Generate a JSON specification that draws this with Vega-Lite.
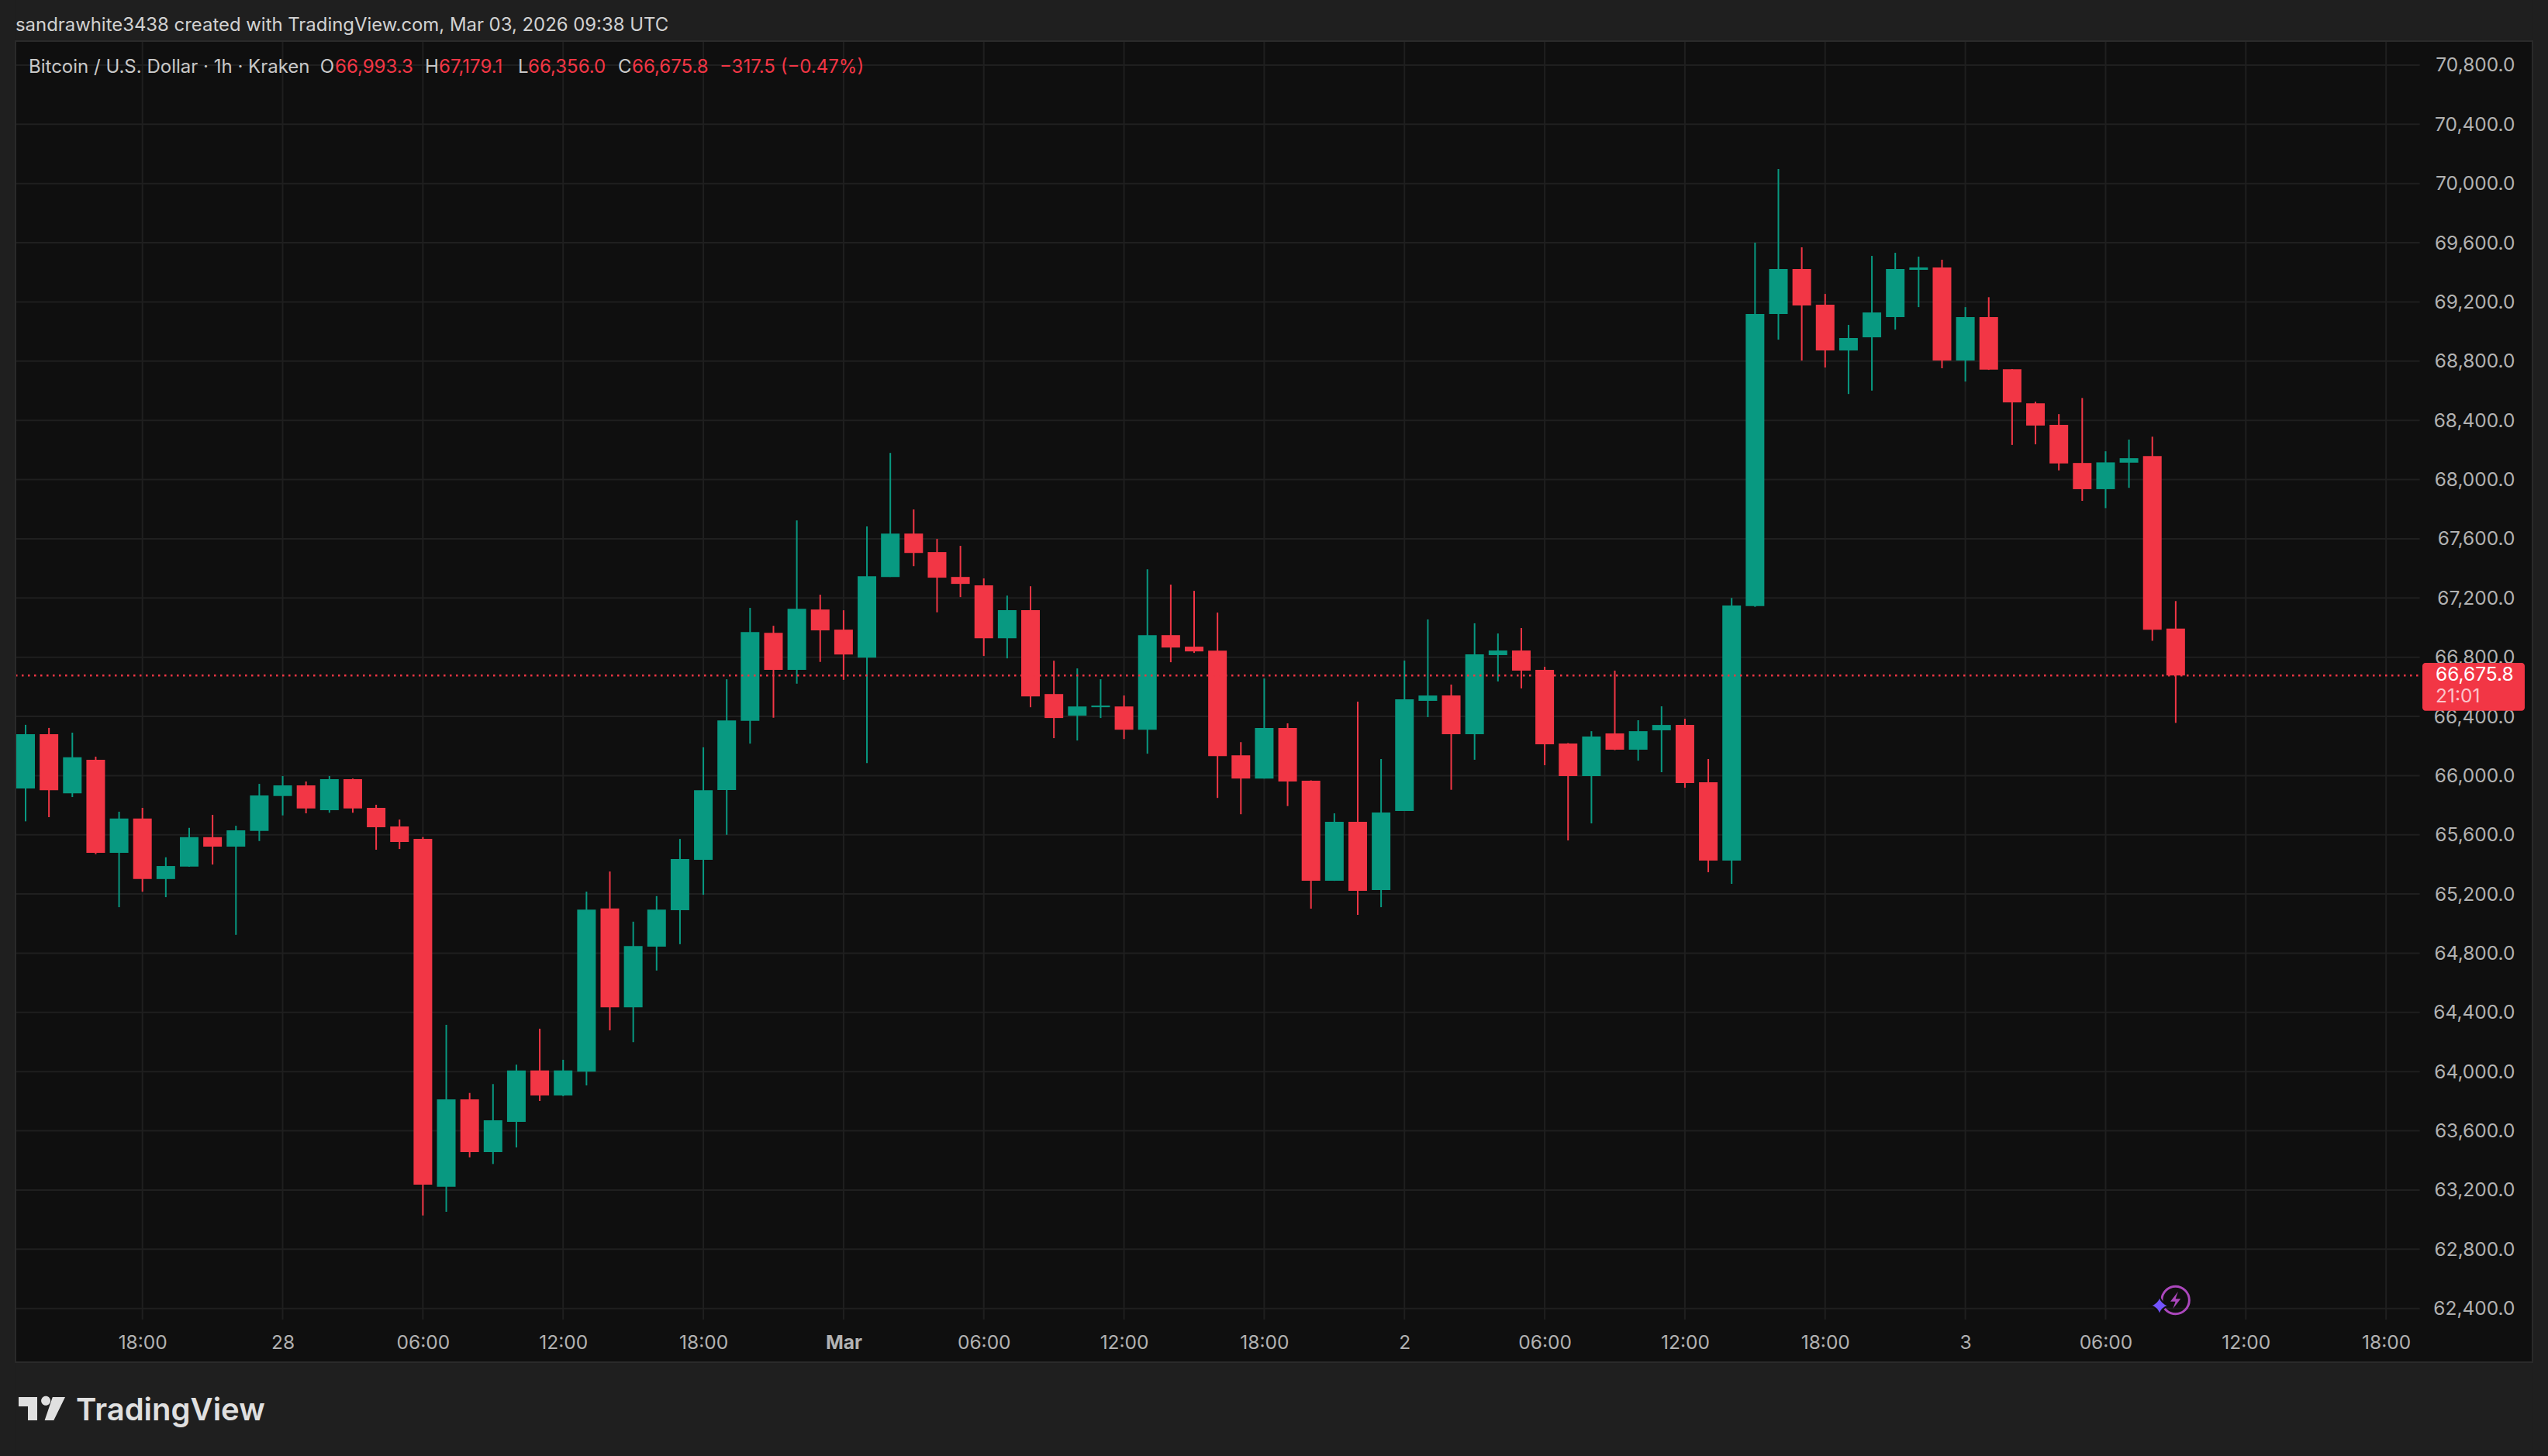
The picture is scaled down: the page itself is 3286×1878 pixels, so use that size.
{
  "$schema": "https://vega.github.io/schema/vega-lite/v6.json",
  "width": 3286,
  "height": 1878,
  "padding": 0,
  "autosize": "none",
  "background": "#0f0f0f",
  "config": {"view": {"stroke": null}, "text": {"font": "Inter", "fontSize": 24, "baseline": "middle", "align": "left"}},
  "datasets": {
    "candles": [
      {"time":"2026-02-27T13:00:00Z","open":65913,"high":66343,"low":65691,"close":66280},
      {"time":"2026-02-27T14:00:00Z","open":66280,"high":66322,"low":65719,"close":65901},
      {"time":"2026-02-27T15:00:00Z","open":65880,"high":66290,"low":65855,"close":66124},
      {"time":"2026-02-27T16:00:00Z","open":66107,"high":66128,"low":65469,"close":65478},
      {"time":"2026-02-27T17:00:00Z","open":65478,"high":65756,"low":65111,"close":65710},
      {"time":"2026-02-27T18:00:00Z","open":65710,"high":65782,"low":65216,"close":65301},
      {"time":"2026-02-27T19:00:00Z","open":65301,"high":65448,"low":65179,"close":65389},
      {"time":"2026-02-27T20:00:00Z","open":65385,"high":65647,"low":65384,"close":65584},
      {"time":"2026-02-27T21:00:00Z","open":65584,"high":65735,"low":65399,"close":65520},
      {"time":"2026-02-27T22:00:00Z","open":65520,"high":65661,"low":64924,"close":65630},
      {"time":"2026-02-27T23:00:00Z","open":65626,"high":65944,"low":65558,"close":65866},
      {"time":"2026-02-28T00:00:00Z","open":65862,"high":65997,"low":65731,"close":65934},
      {"time":"2026-02-28T01:00:00Z","open":65934,"high":65960,"low":65745,"close":65778},
      {"time":"2026-02-28T02:00:00Z","open":65766,"high":65997,"low":65749,"close":65976},
      {"time":"2026-02-28T03:00:00Z","open":65976,"high":65980,"low":65749,"close":65778},
      {"time":"2026-02-28T04:00:00Z","open":65782,"high":65803,"low":65499,"close":65651},
      {"time":"2026-02-28T05:00:00Z","open":65656,"high":65703,"low":65504,"close":65551},
      {"time":"2026-02-28T06:00:00Z","open":65572,"high":65584,"low":63028,"close":63236},
      {"time":"2026-02-28T07:00:00Z","open":63222,"high":64316,"low":63053,"close":63813},
      {"time":"2026-02-28T08:00:00Z","open":63813,"high":63856,"low":63421,"close":63456},
      {"time":"2026-02-28T09:00:00Z","open":63456,"high":63916,"low":63376,"close":63671},
      {"time":"2026-02-28T10:00:00Z","open":63661,"high":64047,"low":63488,"close":64008},
      {"time":"2026-02-28T11:00:00Z","open":64008,"high":64290,"low":63802,"close":63839},
      {"time":"2026-02-28T12:00:00Z","open":63839,"high":64080,"low":63834,"close":64008},
      {"time":"2026-02-28T13:00:00Z","open":64000,"high":65216,"low":63907,"close":65095},
      {"time":"2026-02-28T14:00:00Z","open":65102,"high":65352,"low":64279,"close":64435},
      {"time":"2026-02-28T15:00:00Z","open":64435,"high":65013,"low":64199,"close":64849},
      {"time":"2026-02-28T16:00:00Z","open":64845,"high":65186,"low":64683,"close":65095},
      {"time":"2026-02-28T17:00:00Z","open":65090,"high":65572,"low":64861,"close":65436},
      {"time":"2026-02-28T18:00:00Z","open":65431,"high":66191,"low":65195,"close":65901},
      {"time":"2026-02-28T19:00:00Z","open":65902,"high":66651,"low":65600,"close":66373},
      {"time":"2026-02-28T20:00:00Z","open":66370,"high":67133,"low":66216,"close":66970},
      {"time":"2026-02-28T21:00:00Z","open":66965,"high":67012,"low":66391,"close":66714},
      {"time":"2026-02-28T22:00:00Z","open":66714,"high":67724,"low":66621,"close":67127},
      {"time":"2026-02-28T23:00:00Z","open":67122,"high":67222,"low":66768,"close":66981},
      {"time":"2026-03-01T00:00:00Z","open":66986,"high":67117,"low":66647,"close":66818},
      {"time":"2026-03-01T01:00:00Z","open":66797,"high":67683,"low":66085,"close":67347},
      {"time":"2026-03-01T02:00:00Z","open":67342,"high":68180,"low":67342,"close":67635},
      {"time":"2026-03-01T03:00:00Z","open":67635,"high":67798,"low":67415,"close":67504},
      {"time":"2026-03-01T04:00:00Z","open":67510,"high":67599,"low":67103,"close":67337},
      {"time":"2026-03-01T05:00:00Z","open":67342,"high":67552,"low":67206,"close":67295},
      {"time":"2026-03-01T06:00:00Z","open":67285,"high":67332,"low":66808,"close":66928},
      {"time":"2026-03-01T07:00:00Z","open":66928,"high":67216,"low":66792,"close":67117},
      {"time":"2026-03-01T08:00:00Z","open":67117,"high":67279,"low":66462,"close":66535},
      {"time":"2026-03-01T09:00:00Z","open":66551,"high":66776,"low":66253,"close":66389},
      {"time":"2026-03-01T10:00:00Z","open":66405,"high":66724,"low":66237,"close":66467},
      {"time":"2026-03-01T11:00:00Z","open":66462,"high":66651,"low":66389,"close":66473},
      {"time":"2026-03-01T12:00:00Z","open":66467,"high":66541,"low":66247,"close":66310},
      {"time":"2026-03-01T13:00:00Z","open":66310,"high":67394,"low":66148,"close":66949},
      {"time":"2026-03-01T14:00:00Z","open":66949,"high":67290,"low":66766,"close":66865},
      {"time":"2026-03-01T15:00:00Z","open":66871,"high":67248,"low":66829,"close":66839},
      {"time":"2026-03-01T16:00:00Z","open":66844,"high":67101,"low":65849,"close":66132},
      {"time":"2026-03-01T17:00:00Z","open":66137,"high":66226,"low":65739,"close":65980},
      {"time":"2026-03-01T18:00:00Z","open":65980,"high":66656,"low":65980,"close":66321},
      {"time":"2026-03-01T19:00:00Z","open":66321,"high":66353,"low":65794,"close":65960},
      {"time":"2026-03-01T20:00:00Z","open":65965,"high":65968,"low":65101,"close":65290},
      {"time":"2026-03-01T21:00:00Z","open":65290,"high":65745,"low":65289,"close":65688},
      {"time":"2026-03-01T22:00:00Z","open":65688,"high":66499,"low":65059,"close":65221},
      {"time":"2026-03-01T23:00:00Z","open":65227,"high":66112,"low":65111,"close":65750},
      {"time":"2026-03-02T00:00:00Z","open":65761,"high":66777,"low":65761,"close":66515},
      {"time":"2026-03-02T01:00:00Z","open":66505,"high":67055,"low":66395,"close":66541},
      {"time":"2026-03-02T02:00:00Z","open":66541,"high":66615,"low":65904,"close":66280},
      {"time":"2026-03-02T03:00:00Z","open":66280,"high":67029,"low":66107,"close":66819},
      {"time":"2026-03-02T04:00:00Z","open":66814,"high":66960,"low":66636,"close":66845},
      {"time":"2026-03-02T05:00:00Z","open":66845,"high":66997,"low":66589,"close":66709},
      {"time":"2026-03-02T06:00:00Z","open":66714,"high":66735,"low":66070,"close":66211},
      {"time":"2026-03-02T07:00:00Z","open":66217,"high":66220,"low":65562,"close":65997},
      {"time":"2026-03-02T08:00:00Z","open":65997,"high":66300,"low":65677,"close":66264},
      {"time":"2026-03-02T09:00:00Z","open":66285,"high":66709,"low":66172,"close":66175},
      {"time":"2026-03-02T10:00:00Z","open":66175,"high":66374,"low":66101,"close":66300},
      {"time":"2026-03-02T11:00:00Z","open":66306,"high":66468,"low":66023,"close":66342},
      {"time":"2026-03-02T12:00:00Z","open":66342,"high":66384,"low":65918,"close":65950},
      {"time":"2026-03-02T13:00:00Z","open":65955,"high":66112,"low":65347,"close":65426},
      {"time":"2026-03-02T14:00:00Z","open":65426,"high":67200,"low":65269,"close":67149},
      {"time":"2026-03-02T15:00:00Z","open":67145,"high":69600,"low":67140,"close":69118},
      {"time":"2026-03-02T16:00:00Z","open":69118,"high":70098,"low":68945,"close":69422},
      {"time":"2026-03-02T17:00:00Z","open":69422,"high":69569,"low":68804,"close":69176},
      {"time":"2026-03-02T18:00:00Z","open":69181,"high":69254,"low":68757,"close":68872},
      {"time":"2026-03-02T19:00:00Z","open":68872,"high":69045,"low":68578,"close":68956},
      {"time":"2026-03-02T20:00:00Z","open":68961,"high":69511,"low":68601,"close":69129},
      {"time":"2026-03-02T21:00:00Z","open":69097,"high":69532,"low":69013,"close":69422},
      {"time":"2026-03-02T22:00:00Z","open":69417,"high":69506,"low":69165,"close":69433},
      {"time":"2026-03-02T23:00:00Z","open":69433,"high":69485,"low":68752,"close":68804},
      {"time":"2026-03-03T00:00:00Z","open":68804,"high":69165,"low":68662,"close":69097},
      {"time":"2026-03-03T01:00:00Z","open":69097,"high":69232,"low":68741,"close":68743},
      {"time":"2026-03-03T02:00:00Z","open":68745,"high":68746,"low":68234,"close":68522},
      {"time":"2026-03-03T03:00:00Z","open":68515,"high":68526,"low":68238,"close":68365},
      {"time":"2026-03-03T04:00:00Z","open":68369,"high":68442,"low":68062,"close":68109},
      {"time":"2026-03-03T05:00:00Z","open":68112,"high":68551,"low":67856,"close":67935},
      {"time":"2026-03-03T06:00:00Z","open":67935,"high":68191,"low":67807,"close":68116},
      {"time":"2026-03-03T07:00:00Z","open":68114,"high":68270,"low":67944,"close":68144},
      {"time":"2026-03-03T08:00:00Z","open":68159,"high":68290,"low":66911,"close":66986},
      {"time":"2026-03-03T09:00:00Z","open":66993.3,"high":67179.1,"low":66356,"close":66675.8}
    ],
    "prices": [
      {"price":62400},{"price":62800},{"price":63200},{"price":63600},{"price":64000},{"price":64400},
      {"price":64800},{"price":65200},{"price":65600},{"price":66000},{"price":66400},{"price":66800},
      {"price":67200},{"price":67600},{"price":68000},{"price":68400},{"price":68800},{"price":69200},
      {"price":69600},{"price":70000},{"price":70400},{"price":70800}
    ],
    "times": [
      {"time":"2026-02-27T18:00:00Z"},{"time":"2026-02-28T00:00:00Z"},{"time":"2026-02-28T06:00:00Z"},
      {"time":"2026-02-28T12:00:00Z"},{"time":"2026-02-28T18:00:00Z"},{"time":"2026-03-01T00:00:00Z"},
      {"time":"2026-03-01T06:00:00Z"},{"time":"2026-03-01T12:00:00Z"},{"time":"2026-03-01T18:00:00Z"},
      {"time":"2026-03-02T00:00:00Z"},{"time":"2026-03-02T06:00:00Z"},{"time":"2026-03-02T12:00:00Z"},
      {"time":"2026-03-02T18:00:00Z"},{"time":"2026-03-03T00:00:00Z"},{"time":"2026-03-03T06:00:00Z"},
      {"time":"2026-03-03T12:00:00Z"},{"time":"2026-03-03T18:00:00Z"}
    ]
  },
  "layer": [
    {
      "data": {"name": "times"},
      "mark": {"type": "rule", "color": "#1f1f1f", "strokeWidth": 2},
      "encoding": {
        "x": {
          "field": "time",
          "type": "temporal",
          "title": null,
          "scale": {"type": "utc", "padding": 0, "domain": ["2026-02-27T11:54:18Z", "2026-03-04T00:55:48Z"]},
          "axis": {
            "orient": "bottom",
            "offset": -176,
            "grid": false,
            "domain": false,
            "ticks": false,
            "labelPadding": 30,
            "labelBaseline": "middle",
            "labelFont": "Inter",
            "labelFontSize": 24.5,
            "labelColor": "#b2b2b2",
            "labelOverlap": false,
            "labelFlush": false,
            "labelBound": false,
            "values": ["2026-02-27T18:00:00Z","2026-02-28T00:00:00Z","2026-02-28T06:00:00Z","2026-02-28T12:00:00Z","2026-02-28T18:00:00Z","2026-03-01T00:00:00Z","2026-03-01T06:00:00Z","2026-03-01T12:00:00Z","2026-03-01T18:00:00Z","2026-03-02T00:00:00Z","2026-03-02T06:00:00Z","2026-03-02T12:00:00Z","2026-03-02T18:00:00Z","2026-03-03T00:00:00Z","2026-03-03T06:00:00Z","2026-03-03T12:00:00Z","2026-03-03T18:00:00Z"],
            "labelExpr": "utchours(datum.value) == 0 ? (utcdate(datum.value) == 1 ? 'Mar' : utcdate(datum.value) + '') : utcFormat(datum.value, '%H:%M')",
            "labelFontWeight": {"condition": {"test": "utchours(datum.value) == 0 && utcdate(datum.value) == 1", "value": "bold"}, "value": "normal"}
          }
        },
        "y": {"datum": 70962},
        "y2": {"datum": 62325}
      }
    },
    {
      "data": {"name": "prices"},
      "mark": {"type": "rule", "color": "#1f1f1f", "strokeWidth": 2},
      "encoding": {
        "y": {
          "field": "price",
          "type": "quantitative",
          "title": null,
          "scale": {"domain": [61403.2, 71239.8], "nice": false, "zero": false},
          "axis": {
            "orient": "right",
            "offset": -166,
            "grid": false,
            "domain": false,
            "ticks": false,
            "format": ",.1f",
            "labelPadding": 123,
            "labelAlign": "right",
            "labelBaseline": "middle",
            "labelOffset": 1,
            "labelFont": "Inter",
            "labelFontSize": 24.5,
            "labelColor": "#b2b2b2",
            "labelOverlap": false,
            "labelFlush": false,
            "labelBound": false,
            "values": [62400,62800,63200,63600,64000,64400,64800,65200,65600,66000,66400,66800,67200,67600,68000,68400,68800,69200,69600,70000,70400,70800]
          }
        },
        "x": {"datum": {"expr": "time('2026-02-27T12:34:08Z')"}, "type": "temporal"},
        "x2": {"datum": {"expr": "time('2026-03-03T19:26:30Z')"}}
      }
    },
    {
      "data": {"name": "candles"},
      "mark": {"type": "rule", "strokeWidth": 2},
      "encoding": {
        "x": {"field": "time", "type": "temporal"},
        "y": {"field": "low", "type": "quantitative"},
        "y2": {"field": "high"},
        "color": {"condition": {"test": "datum.close >= datum.open", "value": "#089981"}, "value": "#f23645"}
      }
    },
    {
      "data": {"name": "candles"},
      "mark": {"type": "bar", "width": 24},
      "encoding": {
        "x": {"field": "time", "type": "temporal"},
        "y": {"field": "open", "type": "quantitative"},
        "y2": {"field": "close"},
        "color": {"condition": {"test": "datum.close >= datum.open", "value": "#089981"}, "value": "#f23645"}
      }
    },
    {
      "data": {"values": [{}]},
      "mark": {"type": "rule", "color": "#f23645", "strokeWidth": 2.5, "strokeDash": [2.5, 5.5]},
      "encoding": {
        "x": {"datum": {"expr": "time('2026-02-27T12:34:08Z')"}, "type": "temporal"},
        "x2": {"datum": {"expr": "time('2026-03-03T19:26:30Z')"}},
        "y": {"datum": 66675.8}
      }
    },
    {
      "data": {"values": [{}]},
      "mark": {"type": "rect", "color": "#1f1f1f"},
      "encoding": {
        "x": {"datum": {"expr": "time('2026-02-27T11:54:18Z')"}, "type": "temporal"},
        "x2": {"datum": {"expr": "time('2026-03-04T00:55:48Z')"}},
        "y": {"datum": 70962},
        "y2": {"datum": 71239.8}
      }
    },
    {
      "data": {"values": [{}]},
      "mark": {"type": "rect", "color": "#1f1f1f"},
      "encoding": {
        "x": {"datum": {"expr": "time('2026-02-27T11:54:18Z')"}, "type": "temporal"},
        "x2": {"datum": {"expr": "time('2026-03-04T00:55:48Z')"}},
        "y": {"datum": 61403.2},
        "y2": {"datum": 62037}
      }
    },
    {
      "data": {"values": [{}]},
      "mark": {"type": "rect", "color": "#1f1f1f"},
      "encoding": {
        "x": {"datum": {"expr": "time('2026-02-27T11:54:18Z')"}, "type": "temporal"},
        "x2": {"datum": {"expr": "time('2026-02-27T12:34:08Z')"}},
        "y": {"datum": 61403.2},
        "y2": {"datum": 71239.8}
      }
    },
    {
      "data": {"values": [{}]},
      "mark": {"type": "rect", "color": "#1f1f1f"},
      "encoding": {
        "x": {"datum": {"expr": "time('2026-03-04T00:16:00Z')"}, "type": "temporal"},
        "x2": {"datum": {"expr": "time('2026-03-04T00:55:48Z')"}},
        "y": {"datum": 61403.2},
        "y2": {"datum": 71239.8}
      }
    },
    {
      "data": {"values": [{}]},
      "mark": {"type": "rect", "fill": null, "stroke": "#2a2a2a", "strokeWidth": 2},
      "encoding": {
        "x": {"datum": {"expr": "time('2026-02-27T12:34:08Z')"}, "type": "temporal"},
        "x2": {"datum": {"expr": "time('2026-03-04T00:16:00Z')"}},
        "y": {"datum": 62037},
        "y2": {"datum": 70962}
      }
    },
    {
      "data": {"values": [{}]},
      "mark": {"type": "point", "shape": "circle", "size": 1257, "filled": false, "stroke": "#ab47bc", "strokeWidth": 3, "opacity": 1},
      "encoding": {
        "x": {"datum": {"expr": "time('2026-03-03T08:59:30Z')"}, "type": "temporal"},
        "y": {"datum": 62456}
      }
    },
    {
      "data": {"values": [{}]},
      "mark": {"type": "point", "shape": "M0.3,-1 L-0.6,0.15 L0,0.15 L-0.3,1 L0.6,-0.15 L0,-0.15 Z", "size": 484, "filled": true, "fill": "#ab47bc", "opacity": 1},
      "encoding": {
        "x": {"datum": {"expr": "time('2026-03-03T08:59:30Z')"}, "type": "temporal"},
        "y": {"datum": 62456}
      }
    },
    {
      "data": {"values": [{}]},
      "mark": {"type": "point", "shape": "M0,-1 Q0.22,-0.22 1,0 Q0.22,0.22 0,1 Q-0.22,0.22 -1,0 Q-0.22,-0.22 0,-1 Z", "size": 576, "filled": true, "fill": "#7353ff", "stroke": "#0f0f0f", "strokeWidth": 2, "opacity": 1},
      "encoding": {
        "x": {"datum": {"expr": "time('2026-03-03T08:18:25Z')"}, "type": "temporal"},
        "y": {"datum": 62419}
      }
    },
    {
      "data": {"values": [{}]},
      "mark": {"type": "rect", "color": "#f23645", "cornerRadius": 4},
      "encoding": {
        "x": {"datum": {"expr": "time('2026-03-03T19:33:18Z')"}, "type": "temporal"},
        "x2": {"datum": {"expr": "time('2026-03-03T23:56:02Z')"}},
        "y": {"datum": 66438.4},
        "y2": {"datum": 66761.5}
      }
    },
    {
      "data": {"values": [{}]},
      "mark": {"type": "text", "text": "66,675.8", "color": "#ffffff", "fontSize": 24.5},
      "encoding": {
        "x": {"datum": {"expr": "time('2026-03-03T20:07:05Z')"}, "type": "temporal"},
        "y": {"datum": 66675.8}
      }
    },
    {
      "data": {"values": [{}]},
      "mark": {"type": "text", "text": "21:01", "color": "#fbc4ca", "fontSize": 24.5},
      "encoding": {
        "x": {"datum": {"expr": "time('2026-03-03T20:07:05Z')"}, "type": "temporal"},
        "y": {"datum": 66531}
      }
    },
    {
      "data": {"values": [{}]},
      "mark": {"type": "text", "text": "sandrawhite3438 created with TradingView.com, Mar 03, 2026 09:38 UTC", "color": "#d2d2d2", "fontSize": 23.9},
      "encoding": {
        "x": {"datum": {"expr": "time('2026-02-27T12:34:08Z')"}, "type": "temporal"},
        "y": {"datum": 71067}
      }
    },
    {
      "data": {"values": [{}]},
      "mark": {"type": "text", "text": "Bitcoin / U.S. Dollar · 1h · Kraken", "color": "#c8c8c8"},
      "encoding": {
        "x": {"datum": {"expr": "time('2026-02-27T13:08:00Z')"}, "type": "temporal"},
        "y": {"datum": 70785}
      }
    },
    {
      "data": {"values": [{}]},
      "mark": {"type": "text", "text": "O", "color": "#c8c8c8"},
      "encoding": {"x": {"datum": {"expr": "time('2026-02-28T01:36:00Z')"}, "type": "temporal"}, "y": {"datum": 70785}}
    },
    {
      "data": {"values": [{}]},
      "mark": {"type": "text", "text": "66,993.3", "color": "#f23645"},
      "encoding": {"x": {"datum": {"expr": "time('2026-02-28T02:14:17Z')"}, "type": "temporal"}, "y": {"datum": 70785}}
    },
    {
      "data": {"values": [{}]},
      "mark": {"type": "text", "text": "H", "color": "#c8c8c8"},
      "encoding": {"x": {"datum": {"expr": "time('2026-02-28T06:05:13Z')"}, "type": "temporal"}, "y": {"datum": 70785}}
    },
    {
      "data": {"values": [{}]},
      "mark": {"type": "text", "text": "67,179.1", "color": "#f23645"},
      "encoding": {"x": {"datum": {"expr": "time('2026-02-28T06:41:02Z')"}, "type": "temporal"}, "y": {"datum": 70785}}
    },
    {
      "data": {"values": [{}]},
      "mark": {"type": "text", "text": "L", "color": "#c8c8c8"},
      "encoding": {"x": {"datum": {"expr": "time('2026-02-28T10:04:05Z')"}, "type": "temporal"}, "y": {"datum": 70785}}
    },
    {
      "data": {"values": [{}]},
      "mark": {"type": "text", "text": "66,356.0", "color": "#f23645"},
      "encoding": {"x": {"datum": {"expr": "time('2026-02-28T10:30:00Z')"}, "type": "temporal"}, "y": {"datum": 70785}}
    },
    {
      "data": {"values": [{}]},
      "mark": {"type": "text", "text": "C", "color": "#c8c8c8"},
      "encoding": {"x": {"datum": {"expr": "time('2026-02-28T14:21:00Z')"}, "type": "temporal"}, "y": {"datum": 70785}}
    },
    {
      "data": {"values": [{}]},
      "mark": {"type": "text", "text": "66,675.8", "color": "#f23645"},
      "encoding": {"x": {"datum": {"expr": "time('2026-02-28T14:56:45Z')"}, "type": "temporal"}, "y": {"datum": 70785}}
    },
    {
      "data": {"values": [{}]},
      "mark": {"type": "text", "text": "−317.5 (−0.47%)", "color": "#f23645"},
      "encoding": {"x": {"datum": {"expr": "time('2026-02-28T18:41:42Z')"}, "type": "temporal"}, "y": {"datum": 70785}}
    },
    {
      "data": {"values": [{}]},
      "mark": {"type": "point", "shape": "M-1,-0.5 L-0.2,-0.5 L-0.2,0.5 L-0.6,0.5 L-0.6,-0.1 L-1,-0.1 Z M0.46,-0.5 L1,-0.5 L0.51,0.5 L0.12,0.5 Z M-0.03,-0.34 a0.2,0.2 0 1,0 0.4,0 a0.2,0.2 0 1,0 -0.4,0 Z", "size": 3600, "filled": true, "fill": "#e0e0e0", "opacity": 1},
      "encoding": {"x": {"datum": {"expr": "time('2026-02-27T13:41:49Z')"}, "type": "temporal"}, "y": {"datum": 61722.7}}
    },
    {
      "data": {"values": [{}]},
      "mark": {"type": "text", "text": "TradingView", "color": "#e0e0e0", "fontSize": 40, "fontWeight": 600, "baseline": "alphabetic"},
      "encoding": {"x": {"datum": {"expr": "time('2026-02-27T15:09:25Z')"}, "type": "temporal"}, "y": {"datum": 61644}}
    }
  ]
}
